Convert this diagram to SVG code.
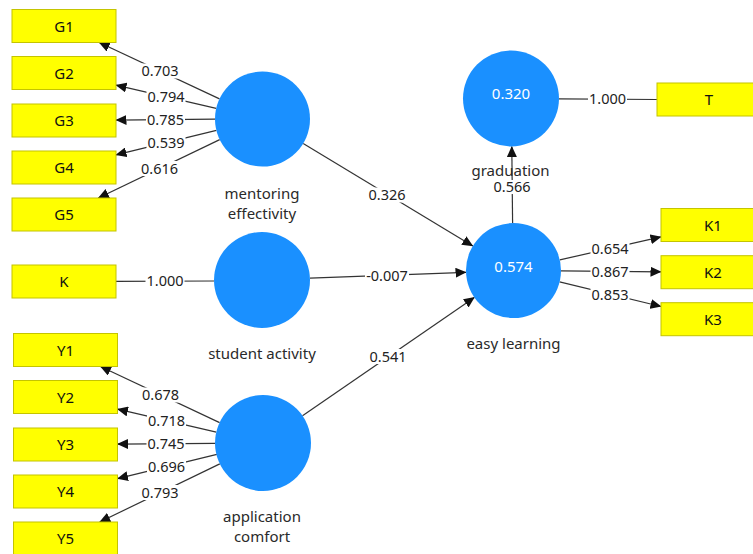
<svg xmlns="http://www.w3.org/2000/svg" width="753" height="554" viewBox="0 0 753 554">
<style>
.bg{fill:#ffffff}
.box{fill:#ffff00;stroke:#c4c400;stroke-width:1}
.bt{font-family:"Noto Sans","DejaVu Sans",sans-serif;font-size:15px;fill:#111;text-anchor:middle}
.lv{fill:#1a90ff}
.lvt{font-family:"Noto Sans","DejaVu Sans",sans-serif;font-size:15px;fill:#ffffff;text-anchor:middle}
.nm{font-family:"Noto Sans","DejaVu Sans",sans-serif;font-size:15px;fill:#2a2a2a;text-anchor:middle}
.ln{stroke:#333333;stroke-width:1.2;fill:none}
.ar{marker-end:url(#ah)}
.lb{fill:#ffffff}
.lt{font-family:"Noto Sans","DejaVu Sans",sans-serif;font-size:14.5px;fill:#222;text-anchor:middle}
</style>
<defs>
<marker id="ah" markerUnits="userSpaceOnUse" viewBox="0 0 11 10" markerWidth="11" markerHeight="10" refX="10.5" refY="5" orient="auto">
<path d="M0,0 L11,5 L0,10 z" fill="#111111"/>
</marker>
</defs>
<rect class="bg" x="0" y="0" width="753" height="554"/>

<g id="connectors">
<g id="c-me-g1"><line class="ln ar" x1="219.5" y1="98.9" x2="99.2" y2="42.5"/><rect class="lb" x="140.5" y="63.5" width="39" height="15"/><text class="lt" x="160" y="76.2">0.703</text></g>
<g id="c-me-g2"><line class="ln ar" x1="216.2" y1="108.3" x2="116" y2="85.1"/><rect class="lb" x="146.5" y="89.5" width="39" height="15"/><text class="lt" x="166" y="102.2">0.794</text></g>
<g id="c-me-g3"><line class="ln ar" x1="215" y1="119.2" x2="116" y2="120.1"/><rect class="lb" x="146" y="112" width="39" height="15"/><text class="lt" x="165.5" y="124.7">0.785</text></g>
<g id="c-me-g4"><line class="ln ar" x1="216.4" y1="130.3" x2="116" y2="154.8"/><rect class="lb" x="146.5" y="135" width="39" height="15"/><text class="lt" x="166" y="147.7">0.539</text></g>
<g id="c-me-g5"><line class="ln ar" x1="219.7" y1="139.6" x2="98.3" y2="198"/><rect class="lb" x="140" y="161" width="39" height="15"/><text class="lt" x="159.5" y="173.7">0.616</text></g>
<g id="c-sa-k"><line class="ln" x1="214" y1="281" x2="116" y2="281.3"/><rect class="lb" x="145.5" y="273.5" width="39" height="15"/><text class="lt" x="165" y="286.2">1.000</text></g>
<g id="c-ac-y1"><line class="ln ar" x1="219.6" y1="422.6" x2="100.5" y2="366.5"/><rect class="lb" x="141" y="387.5" width="39" height="15"/><text class="lt" x="160.5" y="400.2">0.678</text></g>
<g id="c-ac-y2"><line class="ln ar" x1="216.3" y1="432.1" x2="117.5" y2="409.1"/><rect class="lb" x="147" y="413.1" width="39" height="15"/><text class="lt" x="166.5" y="425.8">0.718</text></g>
<g id="c-ac-y3"><line class="ln ar" x1="215" y1="443.4" x2="117.5" y2="444.1"/><rect class="lb" x="146.5" y="436.2" width="39" height="15"/><text class="lt" x="166" y="448.9">0.745</text></g>
<g id="c-ac-y4"><line class="ln ar" x1="216.9" y1="454.3" x2="117.5" y2="478.7"/><rect class="lb" x="147" y="459.3" width="39" height="15"/><text class="lt" x="166.5" y="472">0.696</text></g>
<g id="c-ac-y5"><line class="ln ar" x1="219.8" y1="463.9" x2="99.7" y2="522"/><rect class="lb" x="140.5" y="485" width="39" height="15"/><text class="lt" x="160" y="497.7">0.793</text></g>
<g id="c-me-el"><line class="ln ar" x1="303.2" y1="143.5" x2="472.8" y2="246"/><rect class="lb" x="367.5" y="187.5" width="39" height="15"/><text class="lt" x="387" y="200.2">0.326</text></g>
<g id="c-sa-el"><line class="ln ar" x1="310" y1="278.2" x2="466" y2="272.3"/><rect class="lb" x="365" y="268.3" width="44" height="15"/><text class="lt" x="387" y="281">-0.007</text></g>
<g id="c-ac-el"><line class="ln ar" x1="302.5" y1="415.8" x2="474.4" y2="297.4"/><rect class="lb" x="368.5" y="349" width="39" height="15"/><text class="lt" x="388" y="361.7">0.541</text></g>
<g id="c-el-gr"><line class="ln ar" x1="512.6" y1="223" x2="511.8" y2="146.5"/><rect class="lb" x="492.5" y="180" width="39" height="14"/><text class="lt" x="512" y="191.5">0.566</text></g>
<g id="c-gr-t"><line class="ln" x1="559" y1="98.8" x2="657" y2="99.5"/><rect class="lb" x="588" y="91.5" width="39" height="15"/><text class="lt" x="607.5" y="104.2">1.000</text></g>
<g id="c-el-k1"><line class="ln ar" x1="559.8" y1="259.9" x2="661" y2="236.9"/><rect class="lb" x="590.5" y="241.5" width="39" height="15"/><text class="lt" x="610" y="254.2">0.654</text></g>
<g id="c-el-k2"><line class="ln ar" x1="561" y1="270.9" x2="661" y2="271.8"/><rect class="lb" x="590.5" y="263.8" width="39" height="15"/><text class="lt" x="610" y="276.5">0.867</text></g>
<g id="c-el-k3"><line class="ln ar" x1="559.6" y1="281.8" x2="661" y2="306.5"/><rect class="lb" x="590.5" y="287" width="39" height="15"/><text class="lt" x="610" y="299.7">0.853</text></g>
</g>

<g id="G1"><rect class="box" x="12" y="9.5" width="104" height="33"/><text class="bt" x="64" y="31.5">G1</text></g>
<g id="G2"><rect class="box" x="12" y="56.5" width="104" height="33"/><text class="bt" x="64" y="78.5">G2</text></g>
<g id="G3"><rect class="box" x="12" y="104" width="104" height="33"/><text class="bt" x="64" y="126">G3</text></g>
<g id="G4"><rect class="box" x="12" y="151" width="104" height="33"/><text class="bt" x="64" y="173">G4</text></g>
<g id="G5"><rect class="box" x="12" y="198" width="104" height="33"/><text class="bt" x="64" y="220">G5</text></g>
<g id="K"><rect class="box" x="12" y="265" width="104" height="33"/><text class="bt" x="64" y="287">K</text></g>
<g id="Y1"><rect class="box" x="13.5" y="333.5" width="104" height="33"/><text class="bt" x="65.5" y="355.5">Y1</text></g>
<g id="Y2"><rect class="box" x="13.5" y="380.5" width="104" height="33"/><text class="bt" x="65.5" y="402.5">Y2</text></g>
<g id="Y3"><rect class="box" x="13.5" y="428" width="104" height="33"/><text class="bt" x="65.5" y="450">Y3</text></g>
<g id="Y4"><rect class="box" x="13.5" y="475" width="104" height="33"/><text class="bt" x="65.5" y="497">Y4</text></g>
<g id="Y5"><rect class="box" x="13.5" y="522" width="104" height="33"/><text class="bt" x="65.5" y="544">Y5</text></g>
<g id="T"><rect class="box" x="657" y="83" width="104" height="33"/><text class="bt" x="709" y="105">T</text></g>
<g id="K1"><rect class="box" x="661" y="208.5" width="104" height="33"/><text class="bt" x="713" y="230.5">K1</text></g>
<g id="K2"><rect class="box" x="661" y="255.7" width="104" height="33"/><text class="bt" x="713" y="277.7">K2</text></g>
<g id="K3"><rect class="box" x="661" y="302.7" width="104" height="33"/><text class="bt" x="713" y="324.7">K3</text></g>

<g id="mentoring-effectivity"><circle class="lv" cx="262.5" cy="119" r="47.5"/><text class="nm" x="262" y="199">mentoring</text><text class="nm" x="262" y="218.5">effectivity</text></g>
<g id="student-activity"><circle class="lv" cx="262" cy="280" r="48"/><text class="nm" x="262" y="359">student activity</text></g>
<g id="application-comfort"><circle class="lv" cx="263" cy="443" r="48"/><text class="nm" x="262" y="522">application</text><text class="nm" x="262" y="541.5">comfort</text></g>
<g id="easy-learning"><circle class="lv" cx="513.5" cy="270.5" r="47.5"/><text class="lvt" x="513.5" y="271.5">0.574</text><text class="nm" x="513.5" y="349">easy learning</text></g>
<g id="graduation"><circle class="lv" cx="511" cy="98.5" r="48"/><text class="lvt" x="511" y="99.3">0.320</text><text class="nm" x="510.5" y="176">graduation</text></g>
</svg>
